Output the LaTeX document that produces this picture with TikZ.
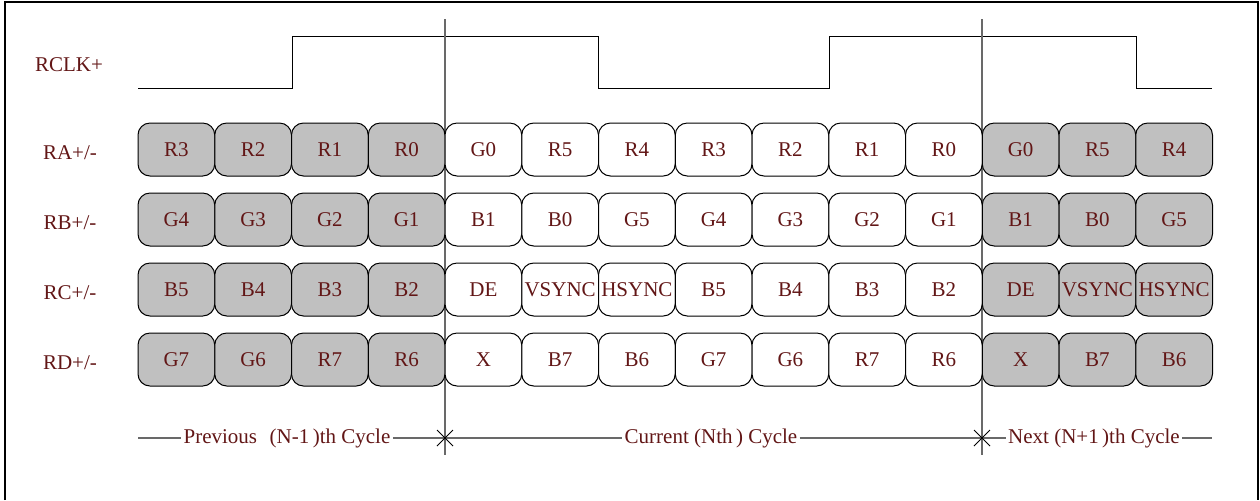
\documentclass[tikz,border=0pt]{standalone}
\usepackage{fontspec}
\setmainfont{Liberation Serif}
\usepackage{xcolor}
\usepackage{tikz}
\usetikzlibrary{positioning}

\definecolor{lblred}{RGB}{98,22,22}
\definecolor{oldgray}{RGB}{192,192,192}
\definecolor{edgegray}{RGB}{105,105,105}

\tikzset{
  sig/.style={text=lblred, font=\fontsize{10.5}{12}\selectfont, inner sep=1pt},
  cell/.style={sig, draw=black, line width=0.5pt, rounded corners=6pt,
    minimum width=38.375pt, minimum height=26.5pt, inner sep=0pt},
  old/.style={fill=oldgray},
  cur/.style={fill=white},
  divider/.style={edgegray, line width=0.6pt},
  wave/.style={black, line width=0.5pt},
}

\begin{document}
\begin{tikzpicture}[x=0.5pt, y=-0.5pt]
\useasboundingbox (0,0) rectangle (1260,500);
\draw[black, line width=1pt] (5,500) -- (5,2) -- (1258,2) -- (1258,500);

% signal names
\node[sig] (rclk) at (69,65) {RCLK+};
\node[sig] (ra) at (70,153) {RA+/-};
\node[sig] (rb) at (70,223) {RB+/-};
\node[sig] (rc) at (70,293) {RC+/-};
\node[sig] (rd) at (70,363) {RD+/-};

% clock
\draw[wave] (138,88) -- (292,88) -- (292,36) -- (598,36) -- (598,88) -- (829,88)
  -- (829,36) -- (1136,36) -- (1136,88) -- (1212,88);

% cycle borders
\draw[divider] (445,19) -- (445,455);
\draw[divider] (982,19) -- (982,455);

% data words
\foreach \rname/\ry/\cells in {
    ra/149.5/{R3,R2,R1,R0,G0,R5,R4,R3,R2,R1,R0,G0,R5,R4},
    rb/219.5/{G4,G3,G2,G1,B1,B0,G5,G4,G3,G2,G1,B1,B0,G5},
    rc/289.5/{B5,B4,B3,B2,DE,VSYNC,HSYNC,B5,B4,B3,B2,DE,VSYNC,HSYNC},
    rd/359.5/{G7,G6,R7,R6,X,B7,B6,G7,G6,R7,R6,X,B7,B6}}
{
  \foreach \lbl [count=\i] in \cells {
    \ifnum\i<5 \def\shade{old}\else\ifnum\i>11 \def\shade{old}\else\def\shade{cur}\fi\fi
    \node[cell,\shade] (\rname-\i) at ({138+(\i-0.5)*76.75},\ry) {\lbl};
  }
}

% cycle labels
\coordinate (b0) at (138,438);
\coordinate (b1) at (445,438);
\coordinate (b2) at (982,438);
\coordinate (b3) at (1212,438);
\node[sig] (prev) at (287,438) {Previous\hspace{0.6em}(N-1\,)th Cycle};
\node[sig] (curr) at (711,438) {Current (Nth\,) Cycle};
\node[sig] (next) at (1094,438) {Next (N+1\,)th Cycle};
\draw[divider] (b0) -- (prev) -- (b1) -- (curr) -- (b2) -- (next) -- (b3);
\draw[wave] (b1) ++(-8,-8) -- ++(16,16) (b1) ++(-8,8) -- ++(16,-16);
\draw[wave] (b2) ++(-8,-8) -- ++(16,16) (b2) ++(-8,8) -- ++(16,-16);
\end{tikzpicture}
\end{document}
